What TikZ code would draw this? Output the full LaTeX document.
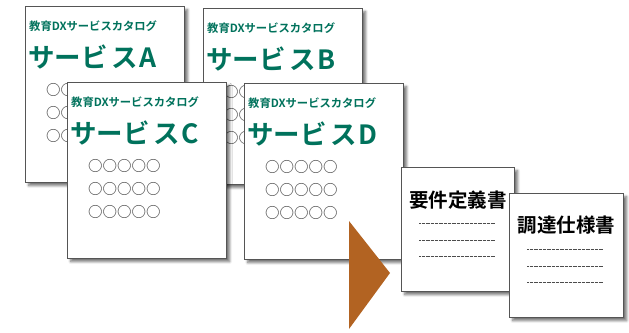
\documentclass[tikz,border=0pt]{standalone}
\usepackage{fontspec}
\setmainfont{Noto Sans CJK JP}
\newfontfamily\jpb{Noto Sans CJK JP}[BoldFont={* Bold}]
\usetikzlibrary{shadows.blur,positioning}
\definecolor{tealgreen}{RGB}{0,114,92}
\definecolor{framegray}{RGB}{85,85,85}
\definecolor{arrowbrown}{RGB}{178,99,34}
\definecolor{circgray}{RGB}{80,80,80}
\tikzset{
  card/.style={draw=framegray, line width=1.3pt, fill=white, minimum width=159pt, minimum height=176pt, anchor=north west, inner sep=0pt,
     blur shadow={shadow xshift=3pt, shadow yshift=-3pt, shadow blur steps=6, shadow opacity=55, shadow blur radius=2.5pt}},
  docbox/.style={card, minimum width=113pt, minimum height=124pt},
  tight/.style={inner sep=0pt, text height=0.75em, text depth=0.05em},
  cathead/.style={anchor=west, tight, text=tealgreen, font=\jpb\bfseries\fontsize{11.3}{12}\selectfont},
  catname/.style={anchor=west, tight, text=tealgreen, font=\jpb\bfseries\fontsize{26.5}{27}\selectfont},
  circrow/.style={anchor=west, tight, text=circgray, font=\jpb\bfseries\fontsize{14.5}{15}\selectfont},
  doctitle/.style={anchor=center, tight, text=black, font=\jpb\bfseries\fontsize{19.5}{20}\selectfont},
  docline/.style={draw=black!70, line width=0.7pt, dash pattern=on 0.8pt off 0.5pt},
}
\newcommand{\catcard}[4]{%
  \node[card] (#1) at (#2,-#3) {};
  \node[cathead] (#1h) at ([xshift=4pt,yshift=-21pt]#1.north west) {教育DXサービスカタログ};
  \node[catname] (#1n) at ([xshift=3pt,yshift=-58pt]#1.north west) {サービ\kern0.15em ス\kern0.05em #4};
  \node[circrow] (#1r1) at ([xshift=21pt,yshift=-86pt]#1.north west) {○○○○○};
  \node[circrow] (#1r2) at ([xshift=21pt,yshift=-109pt]#1.north west) {○○○○○};
  \node[circrow] (#1r3) at ([xshift=21pt,yshift=-132pt]#1.north west) {○○○○○};
}
\begin{document}
\begin{tikzpicture}[x=1pt,y=1pt]
\useasboundingbox (0,0) rectangle (629,-332);
\catcard{ca}{25}{6}{A}
\catcard{cb}{203}{8}{B}
\catcard{cc}{67}{82}{C}
\catcard{cd}{244}{83}{D}
\fill[arrowbrown] (349,-221) coordinate (t1) -- (390,-273) coordinate (t2) -- (349,-329) coordinate (t3) -- cycle;
\node[docbox] (d1) at (401,-167) {};
\node[doctitle] (d1t) at ([yshift=-37pt]d1.north) {要件定義書};
\foreach \o [count=\i] in {56,73,89}{
  \draw[docline] ([xshift=18pt,yshift=-\o pt]d1.north west) coordinate (d1a\i) -- ([xshift=94pt,yshift=-\o pt]d1.north west) coordinate (d1b\i);
}
\node[docbox, minimum width=114pt] (d2) at (509,-193) {};
\node[doctitle] (d2t) at ([yshift=-36pt]d2.north) {調達仕様書};
\foreach \o [count=\i] in {56,73,89}{
  \draw[docline] ([xshift=18pt,yshift=-\o pt]d2.north west) coordinate (d2a\i) -- ([xshift=94pt,yshift=-\o pt]d2.north west) coordinate (d2b\i);
}
\end{tikzpicture}
\end{document}
